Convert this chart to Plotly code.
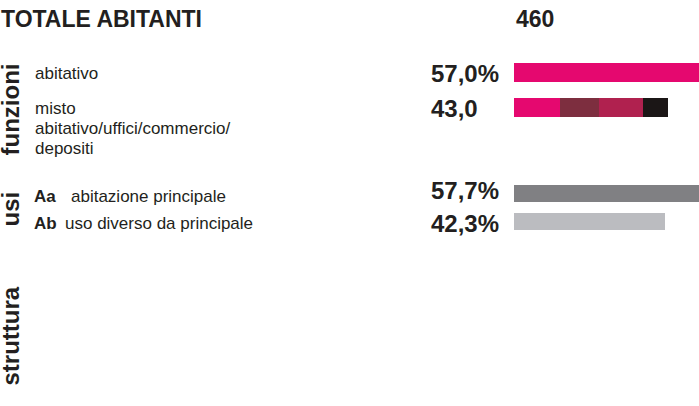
import plotly.graph_objects as go

# ---- data ----
TITLE = "TOTALE ABITANTI"
TOTAL = 460
FUNZ_LABELS = ["abitativo", "misto", "abitativo/uffici/commercio/", "depositi"]
FUNZ_ABIT = 57.0
MISTO_PARTS = [12.9, 10.9, 12.3, 6.9]          # segments of "misto" (sum 43.0)
MISTO_COLORS = ["#E5086F", "#7D2E3F", "#B0214F", "#1B1616"]
USI_CODES = ["Aa", "Ab"]
USI_LABELS = ["abitazione principale", "uso diverso da principale"]
USI_VALUES = [57.7, 42.3]
USI_COLORS = ["#808083", "#BBBCC0"]
SECTIONS = ["funzioni", "usi", "struttura"]

# ---- layout constants (pixels) ----
W, H = 699, 406
BAR_X0 = 514
PX_PER_PCT = 3.57
ROW_Y = [72.5, 107.5, 193.5, 221.5]
BAR_T = 18
TXT = "#231F20"
FONT = "Liberation Sans, Arial, sans-serif"


def fmt(v, pct=True):
    s = f"{v:.1f}".replace(".", ",")
    return s + ("%" if pct else "")


fig = go.Figure()
fig.add_trace(go.Bar(x=[FUNZ_ABIT], y=[ROW_Y[0]], orientation="h",
                     marker=dict(color=MISTO_COLORS[0], line_width=0), width=BAR_T + 1))
for v, c in zip(MISTO_PARTS, MISTO_COLORS):
    fig.add_trace(go.Bar(x=[v], y=[ROW_Y[1]], orientation="h",
                         marker=dict(color=c, line_width=0), width=BAR_T + 1))
for i, (v, c) in enumerate(zip(USI_VALUES, USI_COLORS)):
    fig.add_trace(go.Bar(x=[v], y=[ROW_Y[2 + i]], orientation="h",
                         marker=dict(color=c, line_width=0), width=BAR_T - 1))

ann = []
def px(x):
    return x / W

ann.append(dict(text=f"<b>{TITLE}</b>", x=px(-1), y=19, xanchor="left", yanchor="middle",
                font=dict(size=23, color=TXT)))
ann.append(dict(text=f"<b>{TOTAL}</b>", x=px(514), y=19, xanchor="left", yanchor="middle",
                font=dict(size=23, color=TXT)))

vals = [(FUNZ_ABIT, True), (sum(MISTO_PARTS), False), (USI_VALUES[0], True), (USI_VALUES[1], True)]
lab_y = [73, 108, 190, 223]
for (v, p), yy in zip(vals, lab_y):
    ann.append(dict(text=f"<b>{fmt(v, p)}</b>", x=px(429), y=yy, xanchor="left", yanchor="middle",
                    font=dict(size=24, color=TXT)))

for lab, yy in zip(FUNZ_LABELS, [73, 108, 128, 148]):
    ann.append(dict(text=lab, x=px(33), y=yy, xanchor="left", yanchor="middle",
                    font=dict(size=17, color=TXT)))

code_x = [69, 63]
for code, lab, yy, cx in zip(USI_CODES, USI_LABELS, [196, 223], code_x):
    ann.append(dict(text=f"<b>{code}</b>", x=px(32), y=yy, xanchor="left", yanchor="middle",
                    font=dict(size=17, color=TXT)))
    ann.append(dict(text=lab, x=px(cx), y=yy, xanchor="left", yanchor="middle",
                    font=dict(size=17, color=TXT)))

sec_y = [110, 209, 336]
for s, yy in zip(SECTIONS, sec_y):
    ann.append(dict(text=f"<b>{s}</b>", x=px(-6), y=yy, xanchor="left", yanchor="middle",
                    textangle=-90, font=dict(size=24, color=TXT)))

for a in ann:
    a.update(xref="paper", yref="y", showarrow=False)

fig.update_layout(
    width=W, height=H, autosize=False,
    margin=dict(l=0, r=0, t=0, b=0, pad=0),
    paper_bgcolor="white", plot_bgcolor="white",
    barmode="stack", showlegend=False,
    font=dict(family=FONT, color=TXT),
    xaxis=dict(domain=[BAR_X0 / W, 1], range=[0, (W - BAR_X0) / PX_PER_PCT],
               visible=False, fixedrange=True),
    yaxis=dict(domain=[0, 1], range=[H, 0], visible=False, fixedrange=True),
    annotations=ann,
)

fig.write_html("out.html", config={"displayModeBar": False},
               post_script="document.body.style.margin='0';document.body.style.overflow='hidden';")
